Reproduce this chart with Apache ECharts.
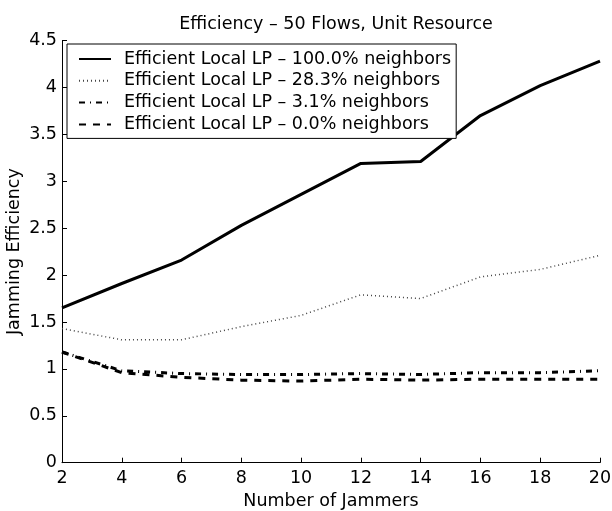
<!DOCTYPE html>
<html>
<head>
<meta charset="utf-8">
<script src="https://cdn.jsdelivr.net/npm/echarts@6/dist/echarts.min.js"></script>
<style>
  html, body { margin: 0; padding: 0; background: #fff; }
  #chart { width: 612px; height: 511px; }
</style>
</head>
<body>
<div id="chart"></div>
<script>
// Number of jammers (x) and jamming efficiency for each neighbour share
const jammers = [2, 4, 6, 8, 10, 12, 14, 16, 18, 20];
const seriesNames = [
  'Efficient Local LP \u2013 100.0% neighbors',
  'Efficient Local LP \u2013 28.3% neighbors',
  'Efficient Local LP \u2013 3.1% neighbors',
  'Efficient Local LP \u2013 0.0% neighbors'
];
const eff100 = [1.65, 1.91, 2.16, 2.53, 2.86, 3.19, 3.21, 3.70, 4.02, 4.28];
const eff28 = [1.43, 1.31, 1.31, 1.45, 1.57, 1.79, 1.75, 1.98, 2.06, 2.21];
const eff3 = [1.18, 0.98, 0.95, 0.94, 0.94, 0.95, 0.94, 0.96, 0.96, 0.98];
const eff0 = [1.18, 0.96, 0.91, 0.88, 0.87, 0.89, 0.88, 0.89, 0.89, 0.89];

const FONT = 'DejaVu Sans, Liberation Sans, Arial, sans-serif';
const FS = 17.5;
const pairs = (ys) => jammers.map((x, i) => [x, ys[i]]);

const lineStyles = [
  { color: '#000', width: 3, type: 'solid' },
  { color: '#444', width: 1.5, type: [1, 3] },
  { color: '#000', width: 3, type: [6, 5, 1, 5] },
  { color: '#000', width: 3, type: [7, 7] }
];
const values = [eff100, eff28, eff3, eff0];

const chart = echarts.init(document.getElementById('chart'), null, { renderer: 'canvas' });
chart.setOption({
  animation: false,
  backgroundColor: '#fff',
  title: {
    text: 'Efficiency \u2013 50 Flows, Unit Resource',
    left: 331, textAlign: 'center', top: 10,
    textStyle: { fontFamily: FONT, fontSize: FS, fontWeight: 'normal', color: '#000' }
  },
  grid: { left: 62, right: 12, top: 40.5, bottom: 48.3, containLabel: false, outerBoundsMode: 'none' },
  legend: {
    orient: 'vertical',
    left: 67, top: 44,
    backgroundColor: '#fff',
    borderColor: '#000', borderWidth: 1, borderRadius: 0,
    padding: [6, 5, 5, 11],
    itemWidth: 32, itemHeight: 14, itemGap: 3.8,
    itemStyle: { color: 'rgba(0,0,0,0)', borderColor: 'rgba(0,0,0,0)', borderWidth: 0, opacity: 0 },
    textStyle: { fontFamily: FONT, fontSize: FS, color: '#000', padding: [0, 0, 0, 8] },
    data: seriesNames
  },
  xAxis: {
    type: 'value', min: 2, max: 20, interval: 2,
    name: 'Number of Jammers', nameLocation: 'middle', nameGap: 30,
    nameMoveOverlap: false,
    nameTextStyle: { fontFamily: FONT, fontSize: FS, color: '#000' },
    axisLine: { lineStyle: { color: '#000', width: 1 } },
    axisTick: { inside: true, length: 5, lineStyle: { color: '#000' } },
    axisLabel: { fontFamily: FONT, fontSize: FS, color: '#000', margin: 7 },
    splitLine: { show: false }
  },
  yAxis: {
    type: 'value', min: 0, max: 4.5, interval: 0.5,
    name: 'Jamming Efficiency', nameLocation: 'middle', nameGap: 39,
    nameMoveOverlap: false,
    nameTextStyle: { fontFamily: FONT, fontSize: FS, color: '#000' },
    axisLine: { show: true, lineStyle: { color: '#000', width: 1 } },
    axisTick: { show: true, inside: true, length: 5, lineStyle: { color: '#000' } },
    axisLabel: { fontFamily: FONT, fontSize: FS, color: '#000', margin: 5 },
    splitLine: { show: false }
  },
  series: seriesNames.map((name, i) => ({
    name: name,
    type: 'line',
    data: pairs(values[i]),
    showSymbol: false,
    symbol: 'none',
    lineStyle: lineStyles[i],
    itemStyle: { color: lineStyles[i].color },
    z: 2
  }))
});
</script>
</body>
</html>
